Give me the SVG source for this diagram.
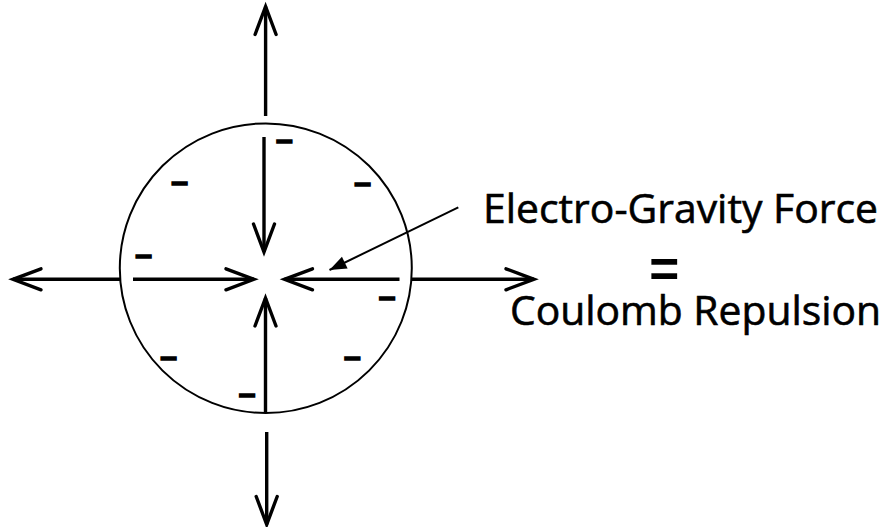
<svg xmlns="http://www.w3.org/2000/svg" width="885" height="527" viewBox="0 0 885 527">
<defs>
<marker id="chev" markerUnits="userSpaceOnUse" viewBox="-32 -14 36 28" markerWidth="36" markerHeight="28" refX="0" refY="0" orient="auto" overflow="visible">
<path d="M -28 -10.5 L 0 0 L -28 10.5" fill="none" stroke="#000" stroke-width="3.4" stroke-linecap="round" stroke-linejoin="miter"/>
</marker>
<marker id="tri" markerUnits="userSpaceOnUse" viewBox="-18 -8 20 16" markerWidth="20" markerHeight="16" refX="0" refY="0" orient="auto" overflow="visible">
<path d="M -17 -6.5 L 0 0 L -17 6.5 Z" fill="#000"/>
</marker>
</defs>
<style>
.force{fill:none;stroke:#000;stroke-width:3.4;marker-end:url(#chev)}
.pointer{fill:none;stroke:#000;stroke-width:2;marker-end:url(#tri)}
.body{fill:none;stroke:#000;stroke-width:2}
.minus{font-family:"Liberation Sans",Arial,sans-serif;font-weight:bold;font-size:30px;fill:#000;stroke:#000;stroke-width:1.6;text-anchor:middle}
.label{font-family:"Open Sans","Liberation Sans",sans-serif;font-size:41px;fill:#000;stroke:#000;stroke-width:0.6}
.eq{font-family:"Liberation Sans",Arial,sans-serif;font-weight:bold;font-size:54px;fill:#000;text-anchor:middle}
</style>
<g id="sphere">
<ellipse class="body" cx="265.8" cy="268.2" rx="146" ry="144.8"/>
</g>
<g id="charges">
<text class="minus" x="284.3" y="149.5">–</text>
<text class="minus" x="179.5" y="191.5">–</text>
<text class="minus" x="362.5" y="193.2">–</text>
<text class="minus" x="143.5" y="265.2">–</text>
<text class="minus" x="387.2" y="306.5">–</text>
<text class="minus" x="168.7" y="366.8">–</text>
<text class="minus" x="352.3" y="366.8">–</text>
<text class="minus" x="247.2" y="404.2">–</text>
</g>
<g id="connectors">
<path class="force" d="M 265.6 116 L 265.6 6.5"/>
<path class="force" d="M 264 137 L 264 252"/>
<path class="force" d="M 265.5 413 L 265.5 298"/>
<path class="force" d="M 266.7 432 L 266.7 524.5"/>
<path class="force" d="M 120 279.3 L 13 279.3"/>
<path class="force" d="M 133 279.3 L 254 279.3"/>
<path class="force" d="M 399.5 279.3 L 284.5 279.3"/>
<path class="force" d="M 412 279.3 L 534 279.3"/>
<path class="pointer" d="M 458.3 207.3 L 329.5 270"/>
</g>
<g id="label-electro-gravity">
<text class="label" x="483" y="222.7" textLength="395" lengthAdjust="spacingAndGlyphs">Electro-Gravity Force</text>
</g>
<g id="label-equals">
<text class="eq" x="664.3" y="287" textLength="30" lengthAdjust="spacingAndGlyphs">=</text>
</g>
<g id="label-coulomb">
<text class="label" x="510" y="325" textLength="371" lengthAdjust="spacingAndGlyphs">Coulomb Repulsion</text>
</g>
</svg>
